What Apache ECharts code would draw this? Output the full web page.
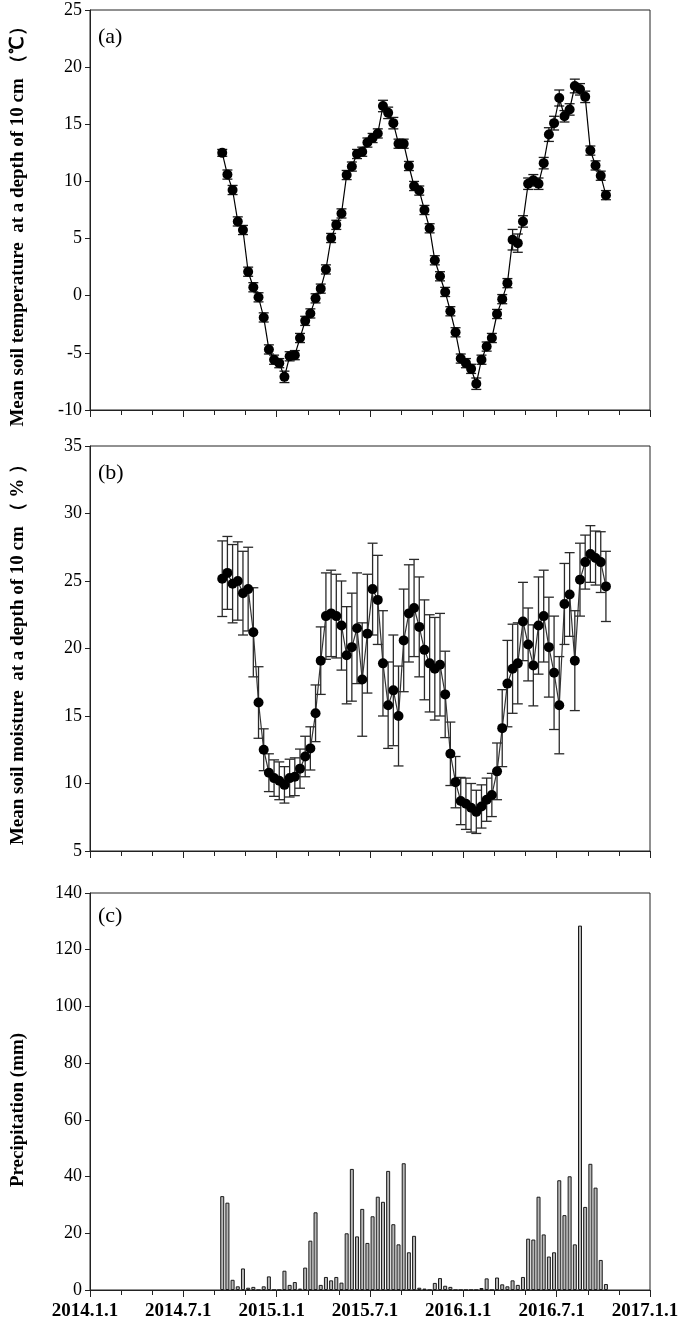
<!DOCTYPE html>
<html>
<head>
<meta charset="utf-8">
<script src="https://cdn.jsdelivr.net/npm/echarts@6/dist/echarts.min.js"></script>
<style>
html,body{margin:0;padding:0;background:#fff;}
#chart{width:685px;height:1326px;}
</style>
</head>
<body>
<div id="chart"></div>
<script>
// ---- DATA ----
// dekad (10-day period) centre dates
const dekadDates = [
 '2014-09-15','2014-09-25',
 '2014-10-05','2014-10-15','2014-10-25','2014-11-05','2014-11-15','2014-11-25','2014-12-05','2014-12-15','2014-12-25',
 '2015-01-05','2015-01-15','2015-01-25','2015-02-05','2015-02-15','2015-02-25','2015-03-05','2015-03-15','2015-03-25',
 '2015-04-05','2015-04-15','2015-04-25','2015-05-05','2015-05-15','2015-05-25','2015-06-05','2015-06-15','2015-06-25',
 '2015-07-05','2015-07-15','2015-07-25','2015-08-05','2015-08-15','2015-08-25','2015-09-05','2015-09-15','2015-09-25',
 '2015-10-05','2015-10-15','2015-10-25','2015-11-05','2015-11-15','2015-11-25','2015-12-05','2015-12-15','2015-12-25',
 '2016-01-05','2016-01-15','2016-01-25','2016-02-05','2016-02-15','2016-02-25','2016-03-05','2016-03-15','2016-03-25',
 '2016-04-05','2016-04-15','2016-04-25','2016-05-05','2016-05-15','2016-05-25','2016-06-05','2016-06-15','2016-06-25',
 '2016-07-05','2016-07-15','2016-07-25','2016-08-05','2016-08-15','2016-08-25','2016-09-05','2016-09-15','2016-09-25',
 '2016-10-05'
];
// (a) mean soil temperature (°C) and its error
const soilTemp = [
 12.5,10.6,9.25,6.5,5.75,2.1,0.74,-0.14,-1.9,-4.7,
 -5.6,-5.9,-7.1,-5.3,-5.2,-3.7,-2.2,-1.55,-0.23,0.62,
 2.3,5.05,6.2,7.2,10.56,11.3,12.4,12.6,13.4,13.8,
 14.2,16.6,16.0,15.1,13.3,13.3,11.35,9.6,9.2,7.5,
 5.9,3.1,1.7,0.33,-1.36,-3.2,-5.5,-5.9,-6.4,-7.7,
 -5.6,-4.45,-3.7,-1.6,-0.3,1.1,4.9,4.6,6.5,9.8,
 10.1,9.8,11.6,14.1,15.1,17.3,15.7,16.3,18.35,18.06,
 17.4,12.7,11.4,10.5,8.8
];
const soilTempErr = [
 0.3,0.4,0.4,0.4,0.4,0.4,0.4,0.4,0.4,0.4,
 0.4,0.4,0.5,0.4,0.4,0.4,0.4,0.4,0.4,0.4,
 0.4,0.4,0.4,0.4,0.4,0.4,0.4,0.4,0.4,0.4,
 0.4,0.5,0.5,0.5,0.4,0.4,0.4,0.4,0.4,0.4,
 0.4,0.4,0.4,0.4,0.4,0.4,0.4,0.4,0.4,0.5,
 0.4,0.4,0.4,0.4,0.4,0.4,0.9,0.8,0.5,0.5,
 0.5,0.5,0.5,0.6,0.6,0.7,0.5,0.5,0.6,0.5,
 0.5,0.4,0.4,0.4,0.4
];
// (b) mean soil moisture (%) and its error
const soilMoist = [
 25.17,25.6,24.8,25.0,24.1,24.4,21.2,16.0,12.5,10.8,
 10.4,10.2,9.9,10.4,10.5,11.1,12.0,12.6,15.2,19.1,
 22.4,22.6,22.4,21.7,19.5,20.1,21.5,17.7,21.1,24.4,
 23.6,18.9,15.8,16.9,15.0,20.6,22.6,23.0,21.6,19.9,
 18.9,18.5,18.8,16.6,12.2,10.1,8.7,8.5,8.2,7.9,
 8.3,8.8,9.15,10.9,14.1,17.4,18.5,18.9,22.0,20.3,
 18.75,21.7,22.4,20.1,18.2,15.8,23.3,24.0,19.1,25.1,
 26.4,27.0,26.7,26.4,24.6
];
const soilMoistErr = [
 2.8,2.7,2.9,2.9,3.1,3.1,3.3,2.65,1.55,1.4,
 1.35,1.4,1.35,1.4,1.4,1.45,1.5,1.6,2.1,2.5,
 3.2,3.2,3.1,3.3,3.6,4.0,4.1,4.2,4.4,3.4,
 3.3,3.9,3.2,4.1,3.7,3.8,3.6,3.6,3.7,3.7,
 3.6,3.8,3.8,3.2,2.35,1.9,1.75,1.9,1.8,1.6,
 1.6,1.6,1.6,2.1,2.85,3.2,3.3,3.0,2.9,2.7,
 3.0,3.6,3.4,3.7,4.2,3.6,3.0,3.1,3.7,2.7,
 2.0,2.1,2.0,2.25,2.6
];
// (c) precipitation (mm) per dekad
const precip = [
 33.1,30.8,3.6,1.3,7.6,0.8,1.1,0,1.3,4.8,
 0,0,6.8,1.8,2.8,0.5,7.9,17.4,27.4,1.8,
 4.6,3.4,4.6,2.6,20.0,42.7,18.9,28.6,16.6,26.0,
 32.9,31.1,42.0,23.2,16.1,44.7,13.3,19.1,0.8,0.5,
 0,2.5,4.2,1.5,1.1,0,0,0,0,0,
 0.7,4.1,0,4.4,2.0,1.3,3.4,1.8,4.6,18.1,
 17.8,32.9,19.6,11.8,13.3,38.7,26.4,40.1,16.1,128.5,
 29.3,44.5,36.1,10.6,2.1
];
const xTickLabels = ['2014.1.1','2014.7.1','2015.1.1','2015.7.1','2016.1.1','2016.7.1','2017.1.1'];
const panelLabels = ['(a)','(b)','(c)'];
const yTitles = [
 'Mean soil temperature  at a depth of 10 cm \uFF08\u2103\uFF09',
 'Mean soil moisture  at a depth of 10 cm \uFF08 % \uFF09',
 'Precipitation (mm)'
];

// ---- helpers ----
function monthPos(d){ // months since 2014-01-01
  const [y,m,dd] = d.split('-').map(Number);
  return (y-2014)*12 + (m-1) + dd/30;
}
const xs = dekadDates.map(monthPos);
const serif = "'Liberation Serif','Times New Roman',serif";

const grids = [
  {left:90, right:35, top:10, height:400},
  {left:90, right:35, top:446, height:405},
  {left:90, right:35, top:893, height:397}
].map(g => Object.assign(g, {show:true, borderColor:'#222', borderWidth:1, backgroundColor:'transparent', containLabel:false}));

function xAxis(i){
  return {
    type:'value', gridIndex:i, min:0, max:36, interval:6,
    axisLine:{show:true, onZero:false, lineStyle:{color:'#222', width:1}},
    axisTick:{show:true, inside:false, length:7, lineStyle:{color:'#222', width:1}},
    minorTick:{show:true, splitNumber:3, length:5, lineStyle:{color:'#222', width:1}},
    splitLine:{show:false}, minorSplitLine:{show:false},
    axisLabel:{show:i===2, margin:12, color:'#000', fontFamily:serif, fontWeight:'bold', fontSize:19,
      padding:[0,10,0,0],
      formatter:(v)=> xTickLabels[Math.round(v/6)] || ''}
  };
}
function yAxis(i,min,max,interval){
  return {
    type:'value', gridIndex:i, min, max, interval,
    axisLine:{show:true, lineStyle:{color:'#222', width:1}},
    axisTick:{show:true, inside:false, length:5, lineStyle:{color:'#222'}},
    splitLine:{show:false},
    axisLabel:{color:'#000', fontFamily:serif, fontSize:18, margin:8}
  };
}
function errSeries(xi, vals, errs, color){
  const data = xs.map((x,k)=>[x, vals[k]-errs[k], vals[k]+errs[k]]);
  return {
    type:'custom', xAxisIndex:xi, yAxisIndex:xi, data, z:3, silent:true,
    encode:{x:0, y:[1,2]},
    renderItem:function(params, api){
      const x = api.value(0);
      const lo = api.coord([x, api.value(1)]);
      const hi = api.coord([x, api.value(2)]);
      const hw = 5;
      const st = {stroke:color, lineWidth:1.3};
      return {type:'group', children:[
        {type:'line', shape:{x1:lo[0], y1:lo[1], x2:hi[0], y2:hi[1]}, style:st},
        {type:'line', shape:{x1:hi[0]-hw, y1:hi[1], x2:hi[0]+hw, y2:hi[1]}, style:st},
        {type:'line', shape:{x1:lo[0]-hw, y1:lo[1], x2:lo[0]+hw, y2:lo[1]}, style:st}
      ]};
    }
  };
}

const option = {
  animation:false,
  backgroundColor:'#fff',
  grid: grids,
  xAxis:[xAxis(0), xAxis(1), xAxis(2)],
  yAxis:[yAxis(0,-10,25,5), yAxis(1,5,35,5), yAxis(2,0,140,20)],
  series:[
    errSeries(0, soilTemp, soilTempErr, '#1a1a1a'),
    {type:'line', xAxisIndex:0, yAxisIndex:0, z:4, data: xs.map((x,k)=>[x, soilTemp[k]]),
      symbol:'circle', symbolSize:10, itemStyle:{color:'#000'}, lineStyle:{color:'#000', width:1.2}},
    errSeries(1, soilMoist, soilMoistErr, '#2a2a2a'),
    {type:'line', xAxisIndex:1, yAxisIndex:1, z:4, data: xs.map((x,k)=>[x, soilMoist[k]]),
      symbol:'circle', symbolSize:10, itemStyle:{color:'#000'}, lineStyle:{color:'#333', width:1.2}},
    {type:'bar', xAxisIndex:2, yAxisIndex:2, data: xs.map((x,k)=>[x, precip[k]]),
      barWidth:4, itemStyle:{color:'#b8b8b8', borderColor:'#1a1a1a', borderWidth:1}}
  ],
  graphic: [
    ...panelLabels.map((t,i)=>({type:'text', left:98, top:[26,462,905][i],
      style:{text:t, font:"22px 'Liberation Serif', serif", fill:'#000'}})),
    ...yTitles.map((t,i)=>({type:'text', x:18, y:[222,650,1110][i], rotation:Math.PI/2,
      style:{text:t, font:"bold 19px 'Liberation Serif', serif", fill:'#000', textAlign:'center', textVerticalAlign:'middle'}}))
  ]
};
const chart = echarts.init(document.getElementById('chart'), null, {renderer:'canvas'});
chart.setOption(option);
</script>
</body>
</html>
